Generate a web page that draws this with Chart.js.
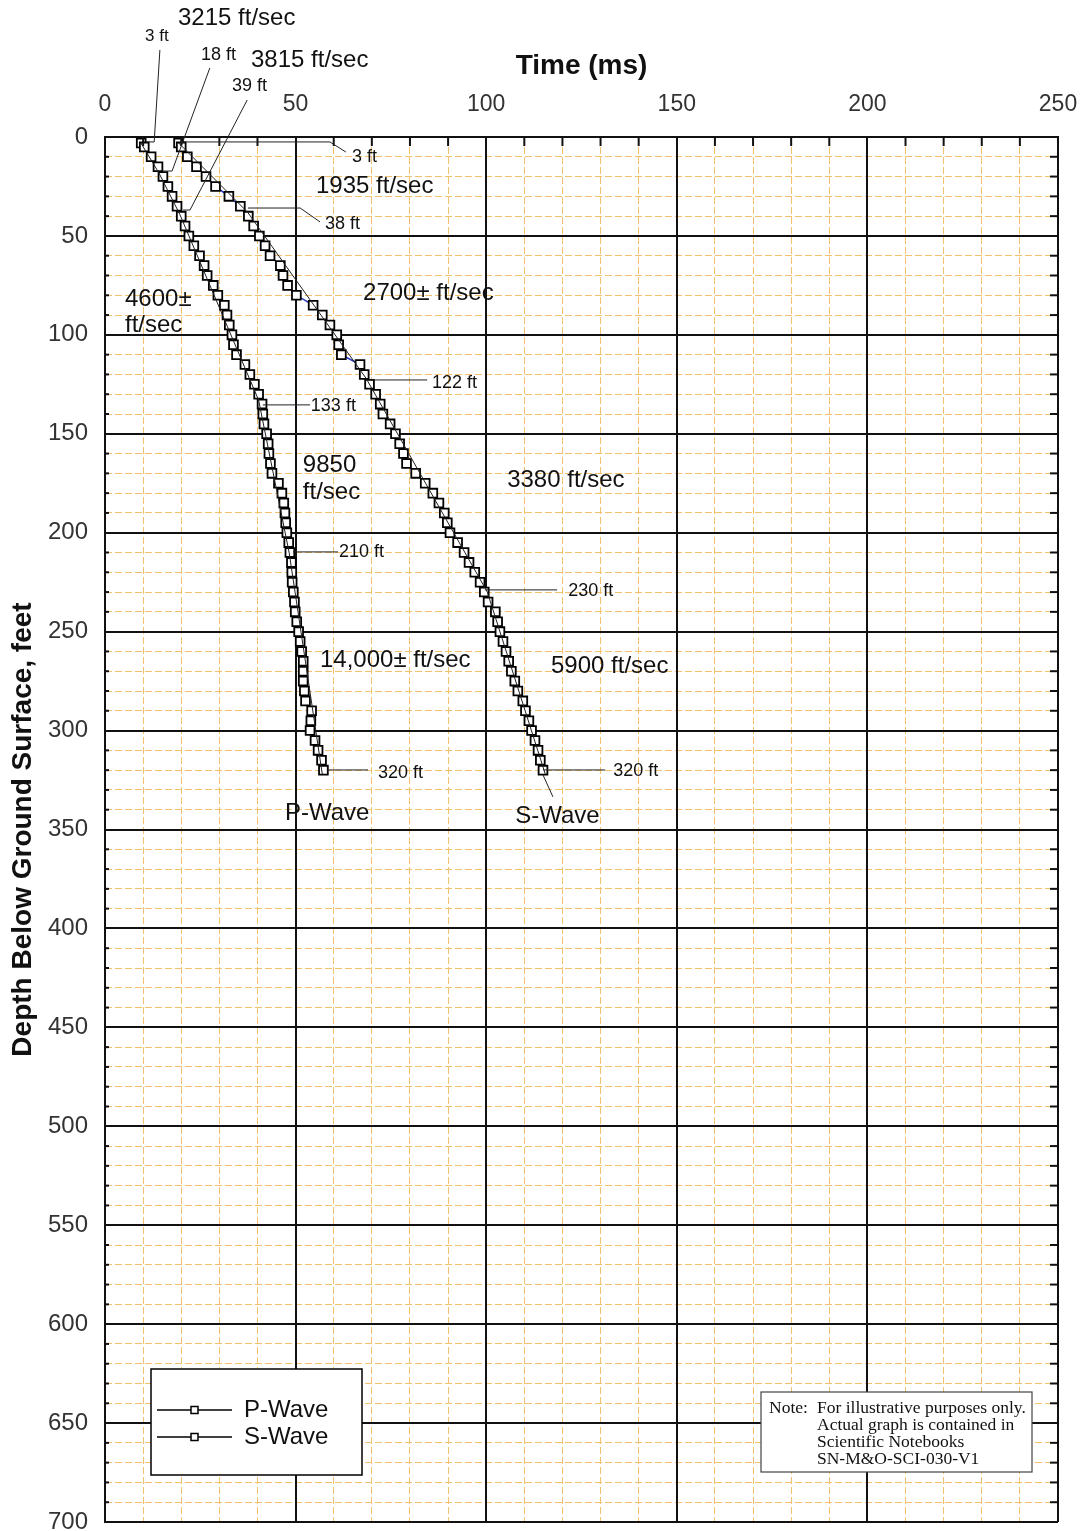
<!DOCTYPE html>
<html lang="en">
<head>
  <meta charset="UTF-8" />
  <title>Downhole Seismic Travel Times</title>
  <script src="https://cdn.jsdelivr.net/npm/chart.js"></script>
  <style>
    body { margin: 0; background: #fff; }
    canvas { display: block; }
  </style>
</head>
<body>
<canvas id="chart" width="1083" height="1531"></canvas>
<script>
  // depth of each receiver station (ft) and first arrival times (ms)
  const depthFt = [3,5,10,15,20,25,30,35,40,45,50,55,60,65,70,75,80,85,90,95,100,105,110,115,120,125,130,135,140,145,150,155,160,165,170,175,180,185,190,195,200,205,210,215,220,225,230,235,240,245,250,255,260,265,270,275,280,285,290,295,300,305,310,315,320];
  const pWaveMs = [9.5,10.3,12.1,13.9,15.2,16.5,17.6,18.9,20.0,21.0,22.0,23.3,24.8,26.0,26.8,28.4,29.6,31.3,32.0,32.6,33.3,33.7,34.5,36.7,38.0,39.2,40.3,41.2,41.4,41.7,42.4,42.8,43.0,43.4,43.8,45.5,46.4,46.9,47.2,47.4,47.7,48.2,48.5,48.9,49.0,49.1,49.4,49.7,49.9,50.3,50.8,51.2,51.6,52.0,52.0,52.0,52.3,52.6,54.2,54.0,53.8,55.1,55.9,56.8,57.3];
  const sWaveMs = [19.3,20.0,21.6,24.0,26.5,29.0,32.5,35.5,37.6,39.0,40.5,42.0,43.3,46.0,46.7,47.9,50.2,54.6,57.0,59.0,60.8,61.3,62.0,66.9,68.0,69.4,71.0,72.2,72.9,74.8,76.2,77.3,78.3,79.1,81.5,84.0,86.0,87.6,89.0,89.8,90.5,92.5,94.2,95.5,97.0,98.4,99.5,100.5,102.4,103.0,103.6,104.4,105.2,105.9,106.6,107.5,108.3,109.6,110.3,111.2,111.9,112.8,113.6,114.2,114.9];

  // interval velocity fits (break points)
  const pFitFt = [3, 18, 39, 133, 210, 322];
  const pFitMs = [9.4, 14.1, 19.6, 40.3, 48.3, 57.0];
  const sFitFt = [3, 38, 122, 230, 322];
  const sFitMs = [19.3, 37.4, 68.5, 100.3, 115.5];

  const seriesNames = ['P-Wave', 'S-Wave'];
  const timeMax = 250, depthMax = 700;

  // annotations in data units: [text, ms, ft, font size]
  const notes = [
    ['3215 ft/sec', 19.15, -60.1, 24], ['3 ft', 10.5, -51.0, 17], ['18 ft', 25.2, -41.4, 18],
    ['3815 ft/sec', 38.3, -38.9, 24], ['39 ft', 33.3, -25.8, 18], ['3 ft', 64.8, 10.1, 18],
    ['1935 ft/sec', 55.35, 24.8, 24], ['38 ft', 57.7, 44.0, 18], ['2700\u00b1 ft/sec', 67.7, 78.8, 24],
    ['4600\u00b1', 5.25, 81.9, 24], ['ft/sec', 5.25, 95.0, 24], ['122 ft', 85.8, 124.3, 18],
    ['133 ft', 54.0, 135.9, 18], ['9850', 51.9, 166.2, 24], ['ft/sec', 51.9, 179.4, 24],
    ['3380 ft/sec', 105.5, 173.3, 24], ['210 ft', 61.4, 209.7, 18], ['230 ft', 121.5, 229.4, 18],
    ['14,000\u00b1 ft/sec', 56.4, 264.3, 24], ['5900 ft/sec', 117.0, 267.8, 24],
    ['320 ft', 71.6, 321.4, 18], ['320 ft', 133.3, 320.4, 18],
    ['P-Wave', 47.2, 341.6, 24], ['S-Wave', 107.6, 343.6, 24]
  ];
  const leaders = [
    [[14.4,-44],[12.9,2.5],[10.8,2.5]],
    [[27.5,-34.9],[17.6,17.2],[15.0,17.2]],
    [[37.3,-18.7],[22.3,36.9],[20.5,36.9]],
    [[19.7,2.5],[59.0,2.5],[63.2,7.6]],
    [[37.5,35.9],[51.2,35.9],[56.4,42.9]],
    [[69.5,122.8],[84.5,122.8]],
    [[41.4,135.4],[53.8,135.4]],
    [[49.3,209.7],[61.1,209.7]],
    [[99.7,228.9],[118.6,228.9]],
    [[58.2,319.9],[69,319.9]],
    [[114.9,319.9],[131.2,319.9]],
    [[114.9,322.4],[117.5,333.5]]
  ];

  const pts = (ms, ft) => ft.map((d, i) => ({ x: ms[i], y: d }));
  const SANS = '"Liberation Sans", Arial, sans-serif';
  const SERIF = '"Liberation Serif", "Times New Roman", serif';
  const lineColors = ['#000', '#2233bb'];

  // keep the plot box fixed: no extra room for overhanging tick labels
  function fixBox(size) {
    return function (s) {
      if (s.isHorizontal()) s.height = size; else s.width = size;
      s.paddingLeft = s.paddingRight = s.paddingTop = s.paddingBottom = 0;
    };
  }

  const overlay = {
    id: 'overlay',
    afterDraw(chart) {
      const ctx = chart.ctx, xs = chart.scales.x, ys = chart.scales.y, a = chart.chartArea;
      const px = v => xs.getPixelForValue(v), py = v => ys.getPixelForValue(v);
      ctx.save();

      // inward tick marks on top and right edges
      ctx.strokeStyle = '#111';
      ctx.lineWidth = 2;
      xs.ticks.forEach(t => {
        if (t.value % 50 === 0) return;
        ctx.beginPath(); ctx.moveTo(px(t.value), a.top); ctx.lineTo(px(t.value), a.top + 9); ctx.stroke();
      });
      ys.ticks.forEach(t => {
        if (t.value % 50 === 0) return;
        ctx.beginPath(); ctx.moveTo(a.right - 8, py(t.value)); ctx.lineTo(a.right, py(t.value)); ctx.stroke();
        ctx.beginPath(); ctx.moveTo(a.left, py(t.value)); ctx.lineTo(a.left + 4, py(t.value)); ctx.stroke();
      });

      // leader lines
      ctx.strokeStyle = '#222';
      ctx.lineWidth = 1;
      leaders.forEach(seg => {
        ctx.beginPath();
        seg.forEach((p, i) => i ? ctx.lineTo(px(p[0]), py(p[1])) : ctx.moveTo(px(p[0]), py(p[1])));
        ctx.stroke();
      });

      // labels
      ctx.fillStyle = '#111';
      ctx.textBaseline = 'middle';
      ctx.textAlign = 'left';
      notes.forEach(([txt, ms, ft, size]) => {
        ctx.font = size + 'px ' + SANS;
        ctx.fillText(txt, px(ms), py(ft));
      });

      // legend box
      const lx = a.left + 46, ly = a.bottom - 153;
      ctx.fillStyle = '#fff';
      ctx.fillRect(lx, ly, 211, 106);
      ctx.strokeStyle = '#000';
      ctx.lineWidth = 1.5;
      ctx.strokeRect(lx, ly, 211, 106);
      seriesNames.forEach((name, i) => {
        const y = ly + 41 + i * 27;
        ctx.strokeStyle = '#000';
        ctx.lineWidth = 1.5;
        ctx.beginPath(); ctx.moveTo(lx + 6, y); ctx.lineTo(lx + 81, y); ctx.stroke();
        ctx.fillStyle = '#fff';
        ctx.fillRect(lx + 40, y - 3.5, 7, 7);
        ctx.strokeRect(lx + 40, y - 3.5, 7, 7);
        ctx.fillStyle = '#111';
        ctx.font = '24px ' + SANS;
        ctx.fillText(name, lx + 93, y);
      });

      // note box
      const nx = a.right - 297, ny = a.bottom - 130;
      ctx.fillStyle = '#fff';
      ctx.fillRect(nx, ny, 271, 80);
      ctx.strokeStyle = '#444';
      ctx.lineWidth = 1.2;
      ctx.strokeRect(nx, ny, 271, 80);
      ctx.fillStyle = '#111';
      ctx.font = '17.5px ' + SERIF;
      ctx.fillText('Note:', nx + 8, ny + 16);
      ['For illustrative purposes only.', 'Actual graph is contained in',
       'Scientific Notebooks', 'SN-M&O-SCI-030-V1'].forEach((s, i) => {
        ctx.fillText(s, nx + 56, ny + 16 + i * 17);
      });
      ctx.restore();
    }
  };

  const minorGrid = '#f2c06e';

  new Chart(document.getElementById('chart'), {
    type: 'scatter',
    data: {
      datasets: [
        { label: 'P fit', data: pts(pFitMs, pFitFt), showLine: true, borderColor: '#222', borderWidth: 1,
          pointRadius: 0, order: 0 },
        { label: 'S fit', data: pts(sFitMs, sFitFt), showLine: true, borderColor: '#222', borderWidth: 1,
          pointRadius: 0, order: 0 },
        { label: seriesNames[0], data: pts(pWaveMs, depthFt), showLine: true, borderColor: lineColors[0],
          borderWidth: 1.5, pointStyle: 'rect', pointRadius: 6.2, pointBorderWidth: 1.8,
          pointBorderColor: '#000', pointBackgroundColor: '#fff', order: 1 },
        { label: seriesNames[1], data: pts(sWaveMs, depthFt), showLine: true, borderColor: lineColors[1],
          borderWidth: 1.5, pointStyle: 'rect', pointRadius: 6.2, pointBorderWidth: 1.8,
          pointBorderColor: '#000', pointBackgroundColor: '#fff', order: 1 }
      ]
    },
    options: {
      responsive: false,
      animation: false,
      layout: { padding: { left: 0, top: 0, right: 25, bottom: 9 } },
      plugins: { legend: { display: false }, tooltip: { enabled: false } },
      scales: {
        x: {
          type: 'linear', position: 'top', min: 0, max: timeMax,
          ticks: { stepSize: 10, display: false },
          grid: { color: minorGrid, lineWidth: 1, drawTicks: false },
          border: { display: false, dash: [7, 3] },
          afterFit: fixBox(0)
        },
        y: {
          type: 'linear', position: 'left', reverse: true, min: 0, max: depthMax,
          ticks: { stepSize: 10, display: false },
          grid: { color: minorGrid, lineWidth: 1, drawTicks: false },
          border: { display: false, dash: [7, 3] },
          afterFit: fixBox(0)
        },
        x2: {
          type: 'linear', position: 'top', min: 0, max: timeMax,
          ticks: { stepSize: 50, autoSkip: false, padding: 19, color: '#333', font: { family: SANS, size: 23 } },
          grid: { color: '#111', lineWidth: 2, drawTicks: false, z: -0.5 },
          border: { display: true, color: '#111', width: 2 },
          title: { display: true, text: 'Time (ms)', color: '#111', padding: { top: 49, bottom: 0 },
                   font: { family: SANS, size: 28, weight: 'bold' } },
          afterFit: fixBox(137)
        },
        y2: {
          type: 'linear', position: 'left', reverse: true, min: 0, max: depthMax,
          ticks: { stepSize: 50, autoSkip: false, padding: 17, color: '#333', font: { family: SANS, size: 24 } },
          grid: { color: '#111', lineWidth: 2, drawTicks: false, z: -0.5 },
          border: { display: true, color: '#111', width: 2 },
          title: { display: true, text: 'Depth Below Ground Surface, feet', color: '#111', padding: { top: 6, bottom: 0 },
                   font: { family: SANS, size: 28, weight: 'bold' } },
          afterFit: fixBox(105)
        }
      }
    },
    plugins: [overlay]
  });
</script>
</body>
</html>
